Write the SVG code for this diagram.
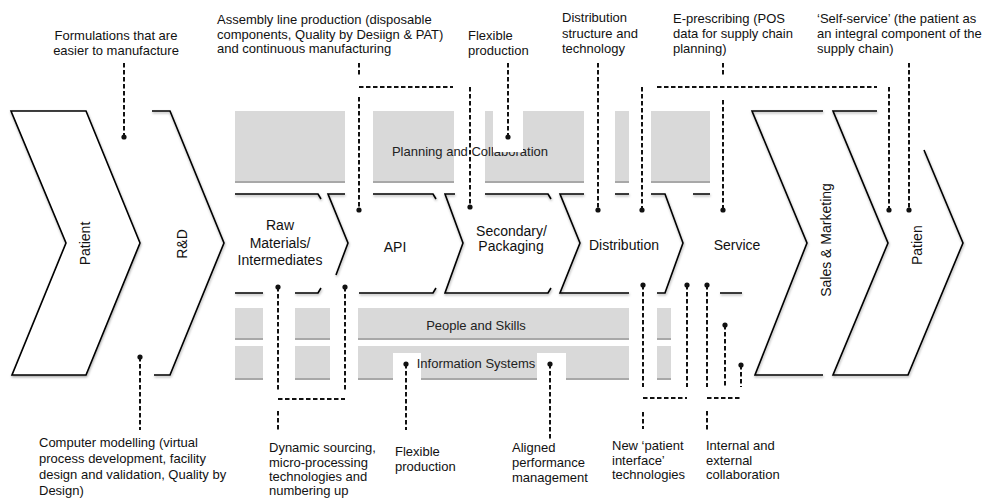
<svg xmlns="http://www.w3.org/2000/svg" width="983" height="501" viewBox="0 0 983 501">
<style>
.ol{fill:none;stroke:#000;stroke-width:1.6;stroke-linejoin:miter}
.wf{fill:#fff;stroke:#000;stroke-width:1.6}
.band{fill:#d9d9d9}
.edge{stroke:#a8a8a8;stroke-width:2}
.gap{fill:#fff}
.dl{fill:none;stroke:#111;stroke-width:2;stroke-dasharray:4.5 2.5}
.dot{fill:#111}
text{font-family:"Liberation Sans",Arial,Helvetica,sans-serif;fill:#111}
.lb{font-size:13px}
.lbc{font-size:13px;text-anchor:middle}
.cl{font-size:14px;text-anchor:middle}
.bl{font-size:13px;text-anchor:middle;fill:#222}
</style>
<defs>
<filter id="sh" x="-10%" y="-10%" width="130%" height="130%">
<feDropShadow dx="0.5" dy="1.5" stdDeviation="1" flood-color="#000" flood-opacity="0.35"/>
</filter>
</defs>

<!-- bands -->
<g id="band-planning">
<rect class="band" x="235" y="111" width="475" height="70"/>
<line class="edge" x1="235" y1="182" x2="710" y2="182"/>
<rect class="gap" x="345" y="104" width="28" height="82"/>
<rect class="gap" x="454" y="104" width="31" height="82"/>
<rect class="gap" x="584" y="104" width="31" height="82"/>
<rect class="gap" x="629" y="104" width="22" height="82"/>
<text class="bl" x="470" y="156">Planning and Collaboration</text>
<rect class="gap" x="493" y="108" width="30" height="44"/>
</g>
<g id="band-people">
<rect class="band" x="235" y="308" width="436" height="30"/>
<line class="edge" x1="235" y1="339" x2="671" y2="339"/>
<rect class="gap" x="263" y="300" width="32" height="42"/>
<rect class="gap" x="330" y="300" width="28" height="42"/>
<rect class="gap" x="629" y="300" width="28" height="42"/>
<text class="bl" x="476" y="329.5">People and Skills</text>
</g>
<g id="band-info">
<rect class="band" x="235" y="346" width="436" height="32"/>
<line class="edge" x1="235" y1="379" x2="671" y2="379"/>
<rect class="gap" x="263" y="343" width="32" height="40"/>
<rect class="gap" x="330" y="343" width="28" height="40"/>
<rect class="gap" x="629" y="343" width="28" height="40"/>
<rect class="gap" x="393" y="353" width="28" height="30"/>
<rect class="gap" x="537" y="353" width="29" height="30"/>
<text class="bl" x="476" y="367.5">Information Systems</text>
</g>

<!-- chevrons -->
<g id="patient-left">
<path class="wf" filter="url(#sh)" d="M11,111 L86,111 L140,243 L86,375 L12,375 L66,243 Z"/>
<text class="cl" transform="translate(90,243.5) rotate(-90)">Patient</text>
</g>
<g id="rnd">
<path class="ol" filter="url(#sh)" d="M152,111 L170,111 L224,243 L170,375 L154,375"/>
<text class="cl" transform="translate(187,244) rotate(-90)">R&amp;D</text>
</g>
<g id="raw-materials">
<path class="ol" filter="url(#sh)" d="M235,194 L318,194 L321,199 M235,293 L263,293 M295,293 L318,293 L321,288"/>
<text class="cl" x="280" y="230">Raw</text>
<text class="cl" x="280" y="247.5">Materials/</text>
<text class="cl" x="280" y="265">Intermediates</text>
</g>
<g id="api">
<path class="ol" filter="url(#sh)" d="M336,275 L348,243 L328,194 L345,194 M373,194 L433,194 L436,199 M359,293 L433,293 L436,288"/>
<text class="cl" x="395" y="252">API</text>
</g>
<g id="secondary">
<path class="ol" filter="url(#sh)" d="M455,194 L445,194 L463,243 L445,293 L548,293 L551,288 M485,194 L548,194 L551,199"/>
<text class="cl" x="511.5" y="236">Secondary/</text>
<text class="cl" x="511" y="251">Packaging</text>
</g>
<g id="distribution">
<path class="ol" filter="url(#sh)" d="M584,194 L560,194 L580,243 L560,293 L629,293 M615,194 L629,194 M651,194 L665,194 L683,243 L665,293 L657,293"/>
<text class="cl" x="624" y="250">Distribution</text>
</g>
<g id="service">
<path class="ol" filter="url(#sh)" d="M693,194 L710,194 M720,293 L742,293"/>
<text class="cl" x="737" y="250">Service</text>
</g>
<g id="sales-marketing">
<path class="ol" filter="url(#sh)" d="M823,111 L752,111 L807,243 L755,375 L823,375"/>
<text class="cl" transform="translate(831,240) rotate(-90)">Sales &amp; Marketing</text>
</g>
<g id="patient-right">
<path class="ol" filter="url(#sh)" d="M877,111 L833,111 L888,243 L833,375 L908,375 L963,243 L924,150"/>
<text font-size="14" transform="translate(922,265) rotate(-90)">Patien</text>
</g>

<!-- connectors -->
<g id="connectors">
<path class="dl" d="M124,63 V137"/>
<path class="dl" d="M359,63 V77 M359,97 V210"/>
<path class="dl" d="M359,87 H453 M657,87 H877"/>
<path class="dl" d="M470,87 V207"/>
<path class="dl" d="M508,63 V137"/>
<path class="dl" d="M598,63 V210"/>
<path class="dl" d="M642,87 V210"/>
<path class="dl" d="M723,63 V77 M723,100 V210"/>
<path class="dl" d="M889,87 V210"/>
<path class="dl" d="M909,63 V210"/>
<path class="dl" d="M140,357 V430"/>
<path class="dl" d="M278,287 V390 M345,287 V390 M278,399 H345 M278,411 V430"/>
<path class="dl" d="M406,364 V430"/>
<path class="dl" d="M550,364 V440"/>
<path class="dl" d="M643,285 V387 M687,285 V387 M643,398 H687 M643,412 V429"/>
<path class="dl" d="M707,285 V387 M725,325 V387 M741,365 V387 M707,398 H741 M707,411 V431"/>
<g class="dot">
<circle cx="124" cy="137" r="2.6"/>
<circle cx="359" cy="210" r="2.6"/>
<circle cx="470" cy="207" r="2.6"/>
<circle cx="508" cy="137" r="2.6"/>
<circle cx="598" cy="210" r="2.6"/>
<circle cx="642" cy="210" r="2.6"/>
<circle cx="723" cy="210" r="2.6"/>
<circle cx="889" cy="210" r="2.6"/>
<circle cx="909" cy="210" r="2.6"/>
<circle cx="140" cy="357" r="2.6"/>
<circle cx="278" cy="287" r="2.6"/>
<circle cx="345" cy="287" r="2.6"/>
<circle cx="406" cy="364" r="2.6"/>
<circle cx="550" cy="364" r="2.6"/>
<circle cx="643" cy="285" r="2.6"/>
<circle cx="687" cy="285" r="2.6"/>
<circle cx="707" cy="285" r="2.6"/>
<circle cx="725" cy="325" r="2.6"/>
<circle cx="741" cy="365" r="2.6"/>
</g>
</g>

<!-- labels -->
<g id="label-formulations">
<text class="lbc" x="116" y="39.5">Formulations that are</text>
<text class="lbc" x="116" y="54.5">easier to manufacture</text>
</g>
<g id="label-assembly">
<text class="lb" x="217" y="23.5">Assembly line production (disposable</text>
<text class="lb" x="217" y="38.5">components, Quality by Desiign &amp; PAT)</text>
<text class="lb" x="217" y="53">and continuous manufacturing</text>
</g>
<g id="label-flexible-top">
<text class="lb" x="468" y="39.5">Flexible</text>
<text class="lb" x="468" y="54.5">production</text>
</g>
<g id="label-distribution">
<text class="lb" x="562" y="22">Distribution</text>
<text class="lb" x="562" y="37.5">structure and</text>
<text class="lb" x="562" y="53">technology</text>
</g>
<g id="label-eprescribing">
<text class="lb" x="673" y="22.5">E-prescribing (POS</text>
<text class="lb" x="673" y="37.5">data for supply chain</text>
<text class="lb" x="673" y="53">planning)</text>
</g>
<g id="label-selfservice">
<text class="lb" x="817" y="22.5">‘Self-service’ (the patient as</text>
<text class="lb" x="817" y="37.5">an integral component of the</text>
<text class="lb" x="817" y="53">supply chain)</text>
</g>
<g id="label-computer">
<text class="lb" x="39" y="447">Computer modelling (virtual</text>
<text class="lb" x="39" y="463">process development, facility</text>
<text class="lb" x="39" y="479">design and validation, Quality by</text>
<text class="lb" x="39" y="495">Design)</text>
</g>
<g id="label-dynamic">
<text class="lb" x="269" y="452">Dynamic sourcing,</text>
<text class="lb" x="269" y="466.5">micro-processing</text>
<text class="lb" x="269" y="481">technologies and</text>
<text class="lb" x="269" y="495">numbering up</text>
</g>
<g id="label-flexible-bottom">
<text class="lb" x="395" y="456">Flexible</text>
<text class="lb" x="395" y="471">production</text>
</g>
<g id="label-aligned">
<text class="lb" x="512" y="452">Aligned</text>
<text class="lb" x="512" y="467">performance</text>
<text class="lb" x="512" y="482">management</text>
</g>
<g id="label-newpatient">
<text class="lb" x="612" y="450">New ‘patient</text>
<text class="lb" x="612" y="464.5">interface’</text>
<text class="lb" x="612" y="479">technologies</text>
</g>
<g id="label-internal">
<text class="lb" x="706" y="450">Internal and</text>
<text class="lb" x="706" y="464.5">external</text>
<text class="lb" x="706" y="479">collaboration</text>
</g>
</svg>
